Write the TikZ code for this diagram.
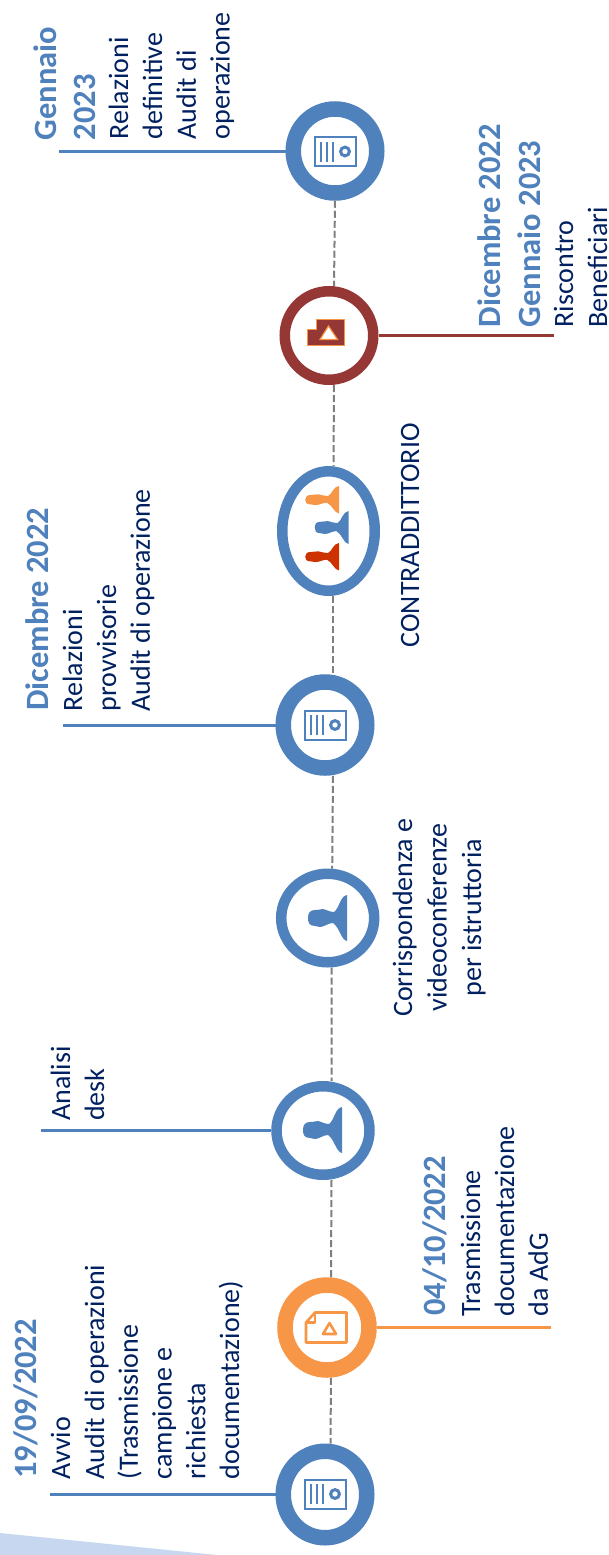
\documentclass[tikz,border=0pt]{standalone}
\usepackage{fontspec}
\setmainfont{Carlito}
\usetikzlibrary{shapes.geometric}
\definecolor{cblue}{HTML}{4F81BD}
\definecolor{cred}{HTML}{953735}
\definecolor{corange}{HTML}{F79646}
\definecolor{cdeep}{HTML}{CC3300}
\definecolor{ctext}{HTML}{002060}
\definecolor{cpale}{HTML}{C6D7EF}
\definecolor{cdash}{HTML}{7F7F7F}
\tikzset{
  ring/.style={shape=ellipse,draw=#1,fill=white,inner sep=0pt},
  leader/.style={draw=#1,line width=3pt},
  dashline/.style={draw=cdash,line width=2pt,dash pattern=on 7pt off 3pt},
  body/.style={rotate=90,anchor=north west,inner sep=0pt,align=left,text=ctext,font=\fontsize{28}{33.8}\selectfont},
  when/.style={rotate=90,anchor=north west,inner sep=0pt,align=left,text=cblue,font=\fontsize{32.5}{39.5}\selectfont\bfseries},
}
\newcommand{\firstline}{\rule{0pt}{20pt}}
\newcommand{\dateline}{\rule{0pt}{22pt}}
\newcommand{\docicon}[2]{%
  \begin{scope}[shift={(#1,#2)},draw=cblue]
    \draw[line width=2pt] (-20.5,-14.5) rectangle (20.5,14.5);
    \foreach \xx in {-14,-8,-2}{\draw[line width=2.6pt] (\xx,-10) -- (\xx,10);}
    \draw[line width=3pt] (10,0) circle (4.4);
  \end{scope}}
\newcommand{\person}[5]{%
  \begin{scope}[shift={(#1,#2)},xscale=#3,yscale=#4]
    \fill[#5] (18,-23) -- (18,23) .. controls (12,22) and (11,10) .. (4,5)
      .. controls (-1,5) and (-5,9) .. (-9,9) .. controls (-11,9) and (-12,8) .. (-14,8)
      .. controls (-20,8) and (-21,4) .. (-21,0) .. controls (-21,-5) and (-19,-8) .. (-14,-8)
      .. controls (-10,-8) and (-8,-9) .. (-6,-9) .. controls (-2,-8) and (1,-6) .. (5,-6)
      .. controls (10,-9) and (11,-22) .. (18,-23) -- cycle;
  \end{scope}}
\begin{document}
\begin{tikzpicture}[x=1pt,y=-1pt]
\useasboundingbox (0,0) rectangle (608,1555);
\fill[cpale] (0,1533) -- (217,1555) -- (0,1555) -- cycle;

% rings
\node[ring=cblue,line width=15.5pt,minimum width=83.5pt,minimum height=84pt] (c1) at (335,151) {};
\node[ring=cred,line width=10.5pt,minimum width=88.5pt,minimum height=88.5pt] (c2) at (329,335.5) {};
\node[ring=cblue,line width=10.5pt,minimum width=92.5pt,minimum height=119.5pt] (c3) at (328.5,531) {};
\node[ring=cblue,line width=15.5pt,minimum width=83.5pt,minimum height=86pt] (c4) at (325,725) {};
\node[ring=cblue,line width=10.5pt,minimum width=93pt,minimum height=88.5pt] (c5) at (327.7,918) {};
\node[ring=cblue,line width=10.5pt,minimum width=93pt,minimum height=88.5pt] (c6) at (323,1130.5) {};
\node[ring=corange,line width=15.5pt,minimum width=84pt,minimum height=85pt] (c7) at (327,1327.5) {};
\node[ring=cblue,line width=15.5pt,minimum width=83.5pt,minimum height=86.5pt] (c8) at (325,1494.5) {};

% dashed spine
\draw[dashline] (c1.south) -- ([xshift=5pt]c2.north);
\draw[dashline] ([xshift=5pt]c2.south) -- ([xshift=5pt]c3.north);
\draw[dashline] ([xshift=4.5pt]c3.south) -- ([xshift=8pt]c4.north);
\draw[dashline] ([xshift=8pt]c4.south) -- ([xshift=4.5pt]c5.north);
\draw[dashline] ([xshift=4pt]c5.south) -- ([xshift=8.5pt]c6.north);
\draw[dashline] ([xshift=8.5pt]c6.south) -- ([xshift=4pt]c7.north);
\draw[dashline] ([xshift=4pt]c7.south) -- ([xshift=5.5pt]c8.north);

% leaders
\coordinate (e1) at (59,151);
\coordinate (e2) at (554,335.5);
\coordinate (e4) at (63,725);
\coordinate (e6) at (41,1130.5);
\coordinate (e7) at (551,1327.5);
\coordinate (e8) at (50,1494.5);
\draw[leader=cblue] (c1) -- (e1);
\draw[leader=cred] (c2) -- (e2);
\draw[leader=cblue] (c4) -- (e4);
\draw[leader=cblue] (c6) -- (e6);
\draw[leader=corange] (c7) -- (e7);
\draw[leader=cblue] (c8) -- (e8);

% icons
\docicon{335}{151.5}
\docicon{325}{725}
\docicon{325}{1494}
\fill[cred,draw=corange,line width=1pt] (307,329.5) -- (316.5,329.5) -- (316.5,319.5) -- (344.5,319.5) -- (344.5,345.5) -- (307,345.5) -- cycle;
\fill[white,draw=corange,line width=1.2pt] (328.5,326) -- (337.5,339.5) -- (320,339.5) -- cycle;
\begin{scope}[draw=corange,line width=2.6pt,line join=round]
  \draw (315,1312.5) -- (346.5,1312.5) -- (346.5,1342.5) -- (306,1342.5) -- (306,1322.5) -- cycle;
  \draw (315,1312.5) -- (315,1322.5) -- (306,1322.5);
  \draw (329.5,1323) -- (336,1334) -- (323,1334) -- cycle;
\end{scope}
\person{329}{918}{1}{1}{cblue}
\person{324}{1130}{1}{1}{cblue}
\person{323.5}{499.7}{0.87}{0.6}{corange}
\person{333}{527.5}{0.87}{0.72}{cblue}
\person{323.5}{556.7}{0.87}{0.6}{cdeep}

% texts
\node[when] (d1) at (33,140.5) {\dateline Gennaio\\2023};
\node[body] (t1) at (108,139.5) {\firstline Relazioni\\definitive\\Audit di\\operazione};
\node[when] (d2) at (477.5,327.5) {\dateline Dicembre 2022\\Gennaio 2023};
\node[body] (t2) at (553,327.5) {\firstline Riscontro\\Beneficiari};
\node[body] (t3) at (399,647.5) {\firstline CONTRADDITTORIO};
\node[when] (d4) at (25,711) {\dateline Dicembre 2022};
\node[body] (t4) at (62,711.5) {\firstline Relazioni\\provvisorie\\Audit di operazione};
\node[body,anchor=north,align=center,font=\fontsize{28}{34.5}\selectfont] (t5) at (392,917.5) {\firstline Corrispondenza e\\videoconferenze\\per istruttoria};
\node[body] (t6) at (50,1121) {\firstline Analisi\\desk};
\node[when] (d7) at (422,1316) {\dateline 04/10/2022};
\node[body] (t7) at (460,1316.5) {\firstline Trasmissione\\documentazione\\da AdG};
\node[when] (d8) at (13,1479) {\dateline 19/09/2022};
\node[body] (t8) at (50,1479.5) {\firstline Avvio\\Audit di operazioni\\(Trasmissione\\campione e\\richiesta\\documentazione)};
\end{tikzpicture}
\end{document}
